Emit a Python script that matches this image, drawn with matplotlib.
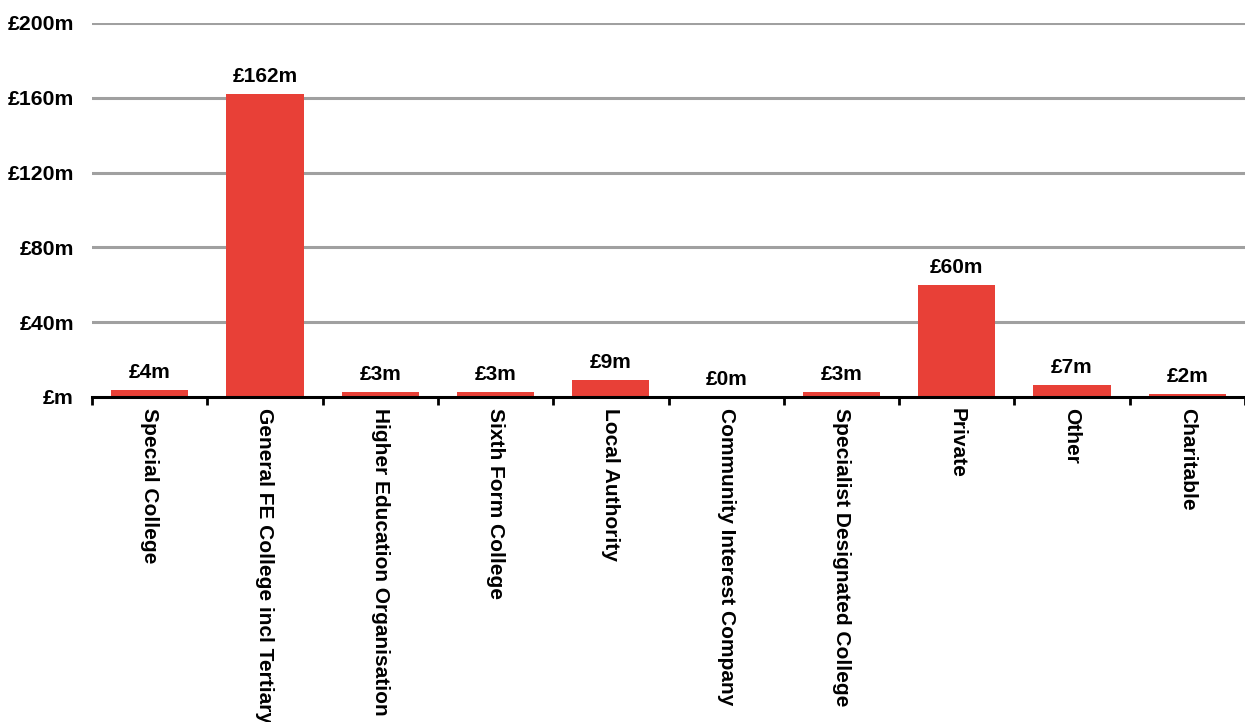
import matplotlib
matplotlib.use("Agg")
import matplotlib.pyplot as plt
from matplotlib.ticker import FixedLocator, FuncFormatter

categories = ["Special College", "General FE College incl Tertiary",
              "Higher Education Organisation", "Sixth Form College",
              "Local Authority", "Community Interest Company",
              "Specialist Designated College", "Private", "Other", "Charitable"]
values = [3.6, 162.0, 2.6, 2.6, 9.0, 0.0, 2.8, 60.0, 6.6, 1.5]
labels = ["£4m", "£162m", "£3m", "£3m", "£9m", "£0m", "£3m", "£60m", "£7m", "£2m"]
yticks = [0, 40, 80, 120, 160, 200]

plt.rcParams['font.family'] = ['Liberation Sans', 'DejaVu Sans']
plt.rcParams['font.weight'] = 'bold'

fig = plt.figure(figsize=(12.45, 7.22), dpi=100)
ax = fig.add_axes([92/1245, 1 - 397/722, 1 - 92/1245, (397 - 23)/722])

x = list(range(len(categories)))
bar_color = '#E84037'
ax.bar(x, values, width=0.67, color=bar_color, zorder=3)

for xi, v, lab in zip(x, values, labels):
    ax.annotate(lab, (xi, v), xytext=(0, 8.6), textcoords='offset points',
                ha='center', va='baseline', fontsize=15, fontweight='bold')

ax.set_xlim(-0.5, len(categories) - 0.5)
ax.set_ylim(0, 200)
ax.yaxis.set_major_locator(FixedLocator(yticks))
ax.yaxis.set_major_formatter(FuncFormatter(lambda v, p: "£m" if v == 0 else f"£{int(v)}m"))
ax.tick_params(axis='y', length=0, labelsize=15.3, pad=13)
for lbl in ax.get_yticklabels():
    lbl.set_fontweight('bold')

for t in yticks[1:]:
    ax.axhline(t, color='#A0A0A0', linewidth=2.2, zorder=1)

ax.set_xticks([i - 0.5 for i in range(len(categories) + 1)])
ax.set_xticklabels([])
ax.set_xticks(x, minor=True)
ax.set_xticklabels(categories, minor=True, rotation=-90, fontsize=15,
                   fontweight='bold', va='top', ha='center')
ax.tick_params(axis='x', which='major', length=6, width=2, color='black', direction='out')
ax.tick_params(axis='x', which='minor', length=0, pad=8)

for s in ['top', 'right', 'left']:
    ax.spines[s].set_visible(False)
ax.spines['bottom'].set_linewidth(2.2)
ax.spines['bottom'].set_color('black')
ax.spines['bottom'].set_zorder(4)

fig.savefig("out.png", dpi=100)
